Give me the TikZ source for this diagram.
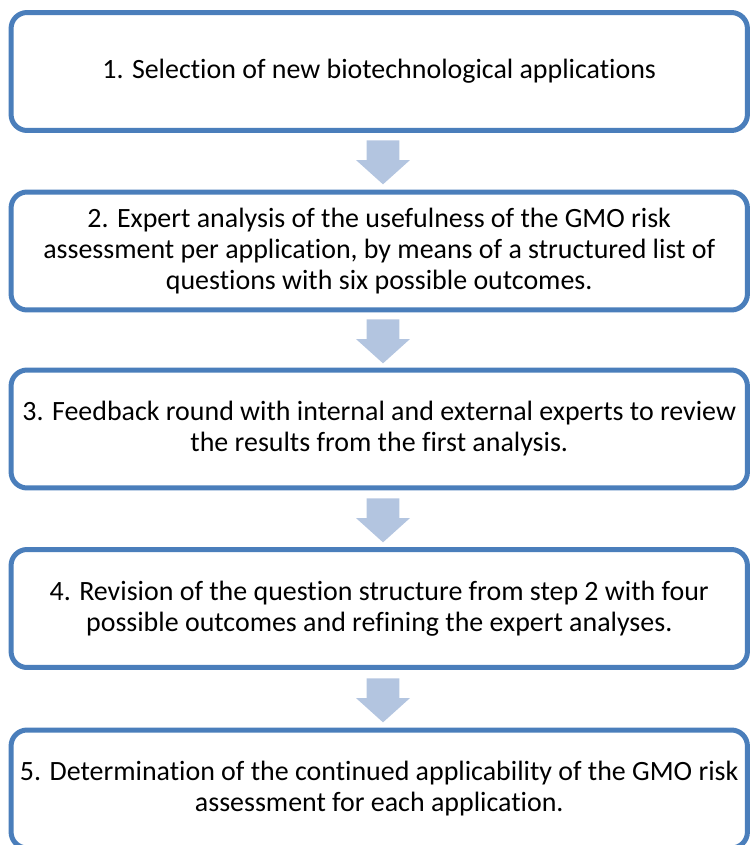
\documentclass[tikz,border=0pt]{standalone}
\usepackage{fontspec}
\setmainfont{Carlito}[Ligatures=NoCommon]
\usepackage{tikz}
\usetikzlibrary{shapes.arrows}

\definecolor{boxblue}{RGB}{74,126,187}
\definecolor{arrowblue}{RGB}{179,197,224}

\begin{document}
\begin{tikzpicture}[x=0.02cm, y=-0.02cm,
    stepbox/.style={draw=boxblue, line width=0.1cm, rounded corners=0.32cm, fill=white,
        minimum width=14.73cm, minimum height=2.36cm, align=center,
        font=\fontsize{15.9}{17.6}\selectfont},
    blockarrow/.style={single arrow, fill=arrowblue, draw=none, shape border rotate=270,
        minimum height=0.88cm, inner xsep=0.32cm, inner ysep=0pt, single arrow head extend=0.21cm,
        single arrow tip angle=96, anchor=tail}]

\useasboundingbox (0,0) rectangle (750,845);

% step boxes

\node[stepbox] (s1) at (379.25, 71.5) {1. Selection of new biotechnological applications};
\node[stepbox] (s2) at (379.25, 251) {2. Expert analysis of the usefulness of the GMO risk\\assessment per application, by means of a structured list of\\questions with six possible outcomes.};
\node[stepbox] (s3) at (379.25, 429) {3. Feedback round with internal and external experts to review\\the results from the first analysis.};
\node[stepbox] (s4) at (379.25, 608.5) {4. Revision of the question structure from step 2 with four\\possible outcomes and refining the expert analyses.};
\node[stepbox] (s5) at (379.25, 789) {5. Determination of the continued applicability of the GMO risk\\assessment for each application.};

% arrows between steps

\node[blockarrow] (a1) at (383, 140) {};
\node[blockarrow] (a2) at (383, 319) {};
\node[blockarrow] (a3) at (383, 498) {};
\node[blockarrow] (a4) at (383, 678) {};

\end{tikzpicture}
\end{document}
